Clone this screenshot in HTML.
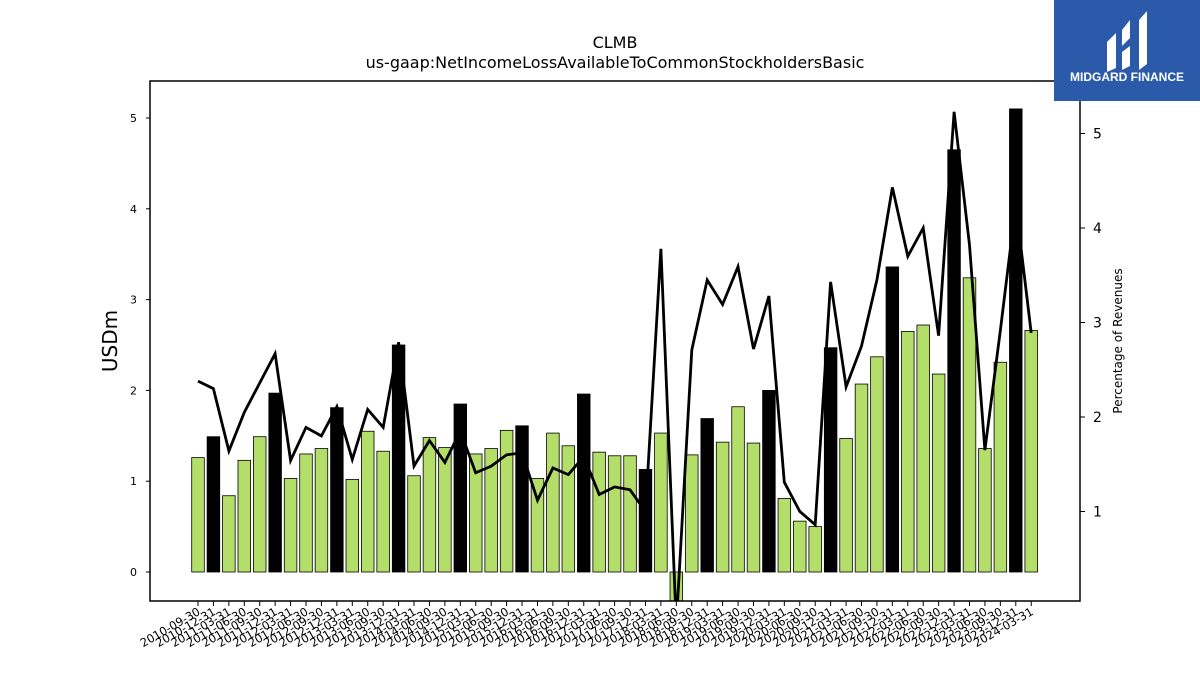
<!DOCTYPE html>
<html><head><meta charset="utf-8"><style>
body{margin:0;background:#fff;width:1200px;height:675px;overflow:hidden;font-family:"Liberation Sans","DejaVu Sans",sans-serif}
</style></head><body>
<svg id="chart" width="1200" height="675" xmlns="http://www.w3.org/2000/svg" font-family="DejaVu Sans, Liberation Sans, sans-serif">
<text x="615" y="48" text-anchor="middle" font-size="16">CLMB</text>
<text x="615" y="68" text-anchor="middle" font-size="16">us-gaap:NetIncomeLossAvailableToCommonStockholdersBasic</text>
<text transform="translate(117,341) rotate(-90)" text-anchor="middle" font-size="20">USDm</text>
<text transform="translate(1122,341) rotate(-90)" text-anchor="middle" font-size="12">Percentage of Revenues</text>
<g id="plot"></g>
<rect x="150" y="81" width="930" height="520" fill="none" stroke="#000" stroke-width="1.5"/>
<g>
<rect x="1054" y="0" width="146" height="101" fill="#2c5aab"/>
<path d="M1107 42 L1116 33 L1116 68 L1107 72 Z" fill="#fff"/>
<path d="M1122 30 L1130 20 L1130 38 L1122 46 Z M1122 52 L1130 46 L1130 66 L1122 70 Z" fill="#fff"/>
<path d="M1139 20 L1147 11 L1147 64 L1139 70 Z" fill="#fff"/>
<text x="1127" y="81" text-anchor="middle" font-size="12" font-weight="bold" fill="#fff" font-family="Liberation Sans, sans-serif">MIDGARD FINANCE</text>
</g>
</svg>
<script>
const categories=["2010-09-30","2010-12-31","2011-03-31","2011-06-30","2011-09-30","2011-12-31","2012-03-31","2012-06-30","2012-09-30","2012-12-31","2013-03-31","2013-06-30","2013-09-30","2013-12-31","2014-03-31","2014-06-30","2014-09-30","2014-12-31","2015-03-31","2015-06-30","2015-09-30","2015-12-31","2016-03-31","2016-06-30","2016-09-30","2016-12-31","2017-03-31","2017-06-30","2017-09-30","2017-12-31","2018-03-31","2018-06-30","2018-09-30","2018-12-31","2019-03-31","2019-06-30","2019-09-30","2019-12-31","2020-03-31","2020-06-30","2020-09-30","2020-12-31","2021-03-31","2021-06-30","2021-09-30","2021-12-31","2022-03-31","2022-06-30","2022-09-30","2022-12-31","2023-03-31","2023-06-30","2023-09-30","2023-12-31","2024-03-31"];
const netIncome=[1.26,1.49,0.84,1.23,1.49,1.97,1.03,1.30,1.36,1.81,1.02,1.55,1.33,2.50,1.06,1.48,1.37,1.85,1.30,1.36,1.56,1.61,1.03,1.53,1.39,1.96,1.32,1.28,1.28,1.13,1.53,-0.6,1.29,1.69,1.43,1.82,1.42,2.00,0.81,0.56,0.50,2.47,1.47,2.07,2.37,3.36,2.65,2.72,2.18,4.65,3.24,1.36,2.31,5.10,2.66];
const isAnnual=[0,1,0,0,0,1,0,0,0,1,0,0,0,1,0,0,0,1,0,0,0,1,0,0,0,1,0,0,0,1,0,0,0,1,0,0,0,1,0,0,0,1,0,0,0,1,0,0,0,1,0,0,0,1,0];
const pctRevenue=[2.38,2.30,1.64,2.05,2.36,2.67,1.54,1.89,1.80,2.11,1.55,2.08,1.89,2.79,1.48,1.75,1.52,1.85,1.41,1.48,1.60,1.62,1.12,1.46,1.39,1.58,1.18,1.26,1.23,1.00,3.78,-0.2,2.71,3.45,3.19,3.59,2.72,3.28,1.31,1.00,0.86,3.43,2.32,2.75,3.45,4.43,3.70,4.00,2.86,5.23,3.82,1.65,2.92,4.25,2.89];
const leftTicks=[0,1,2,3,4,5];
const rightTicks=[1,2,3,4,5];
const NS="http://www.w3.org/2000/svg";
const svg=document.getElementById('chart');
const plot=document.getElementById('plot');
const X0=198,DX=15.43,BW=12.6;
function xPos(i){return X0+i*DX;}
function yL(v){return 572-v*90.8;}
function yR(v){return 606-v*94.5;}
function mk(tag,attrs,parent){const e=document.createElementNS(NS,tag);for(const k in attrs)e.setAttribute(k,attrs[k]);(parent||svg).appendChild(e);return e;}
const clip=mk('clipPath',{id:'pc'});mk('rect',{x:150,y:81,width:930,height:520},clip);
plot.setAttribute('clip-path','url(#pc)');
netIncome.forEach((v,i)=>{
  const y0=yL(0),y1=yL(v);
  const r=mk('rect',{x:xPos(i)-BW/2,y:Math.min(y0,y1),width:BW,height:Math.abs(y1-y0),fill:isAnnual[i]?'#000':'#b3de69',stroke:'#000','stroke-width':0.8},plot);
  
  
});
const pts=pctRevenue.map((v,i)=>xPos(i).toFixed(1)+','+yR(v).toFixed(1)).join(' ');
const line=mk('polyline',{points:pts,fill:'none',stroke:'#000','stroke-width':2.8,'stroke-linejoin':'miter'},plot);


leftTicks.forEach(t=>{
  const y=yL(t);
  const l=mk('line',{x1:146,x2:150,y1:y,y2:y,stroke:'#000'});
  
  
  const tx=mk('text',{x:137,y:y+4,'text-anchor':'end','font-size':11});
  tx.textContent=t;
  
  
});
rightTicks.forEach(t=>{
  const y=yR(t);
  const l=mk('line',{x1:1080,x2:1085,y1:y,y2:y,stroke:'#000'});
  
  
  const tx=mk('text',{x:1093,y:y+5,'font-size':14});
  tx.textContent=t;
  
  
});
categories.forEach((c,i)=>{
  const x=xPos(i);
  const l=mk('line',{x1:x,x2:x,y1:601,y2:606,stroke:'#000'});
  
  
  const tx=mk('text',{transform:'translate('+(x+3)+',614) rotate(-30)','text-anchor':'end','font-size':11.5});
  tx.textContent=c;
  
  
});
</script>
</body></html>
